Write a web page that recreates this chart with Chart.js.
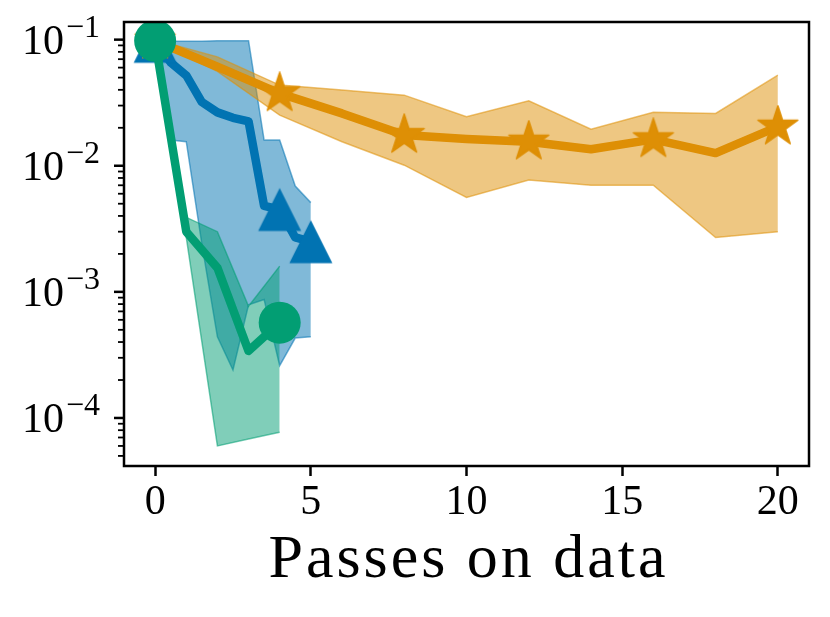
<!DOCTYPE html>
<html>
<head>
<meta charset="utf-8">
<script src="https://cdn.jsdelivr.net/npm/chart.js@4.4.1/dist/chart.umd.min.js"></script>
<style>
  html, body { margin: 0; padding: 0; background: #fff; overflow: hidden; }
  canvas { display: block; }
</style>
</head>
<body>
<canvas id="chart" width="830" height="617"></canvas>
<script>
// values (log scale)
const blueX = [0, 0.5, 1, 1.5, 2, 2.5, 3, 3.5, 4, 4.5, 5];
const blueMean = [0.097, 0.066, 0.052, 0.032, 0.0265, 0.024, 0.0225, 0.0048, 0.0045, 0.0027, 0.0025];
const blueUpper = [0.1, 0.097, 0.097, 0.097, 0.098, 0.098, 0.098, 0.016, 0.016, 0.0069, 0.0051];
const blueLower = [0.09, 0.016, 0.0155, 0.0024, 0.00044, 0.00024, 0.00079, 0.00087, 0.00026, 0.00043, 0.00044];
const blueMarks = [0, 8, 10];

const orangeX = [0, 2, 4, 6, 8, 10, 12, 14, 16, 18, 20];
const orangeMean = [0.098, 0.061, 0.0375, 0.026, 0.0175, 0.0163, 0.0155, 0.0135, 0.0162, 0.0126, 0.0204];
const orangeUpper = [0.1, 0.073, 0.0436, 0.0398, 0.0363, 0.0245, 0.0327, 0.0195, 0.0265, 0.026, 0.0523];
const orangeLower = [0.096, 0.056, 0.0252, 0.0155, 0.0101, 0.0056, 0.0077, 0.0070, 0.0070, 0.0027, 0.0030];
const orangeMarks = [0, 2, 4, 6, 8, 10];

const greenX = [0, 1, 2, 3, 4];
const greenMean = [0.098, 0.003, 0.00155, 0.00034, 0.00057];
const greenUpper = [0.1, 0.0039, 0.0030, 0.00077, 0.0016];
const greenLower = [0.096, 0.0027, 0.00006, 0.000068, 0.000077];
const greenMarks = [0, 4];

const xTicks = [0, 5, 10, 15, 20];
const xTitle = "Passes on data";

const BLUE = "1,115,178";
const ORANGE = "222,143,5";
const GREEN = "2,158,115";

function pts(xs, ys) {
    return xs.map((x, i) => ({ x: x, y: ys[i] }));
}

function radii(n, marks, r) {
    const out = [];
    for (let i = 0; i < n; i++) out.push(marks.includes(i) ? r : 0);
    return out;
}

// matplotlib-like filled markers
function starMarker(R, color) {
    const s = Math.ceil(R) * 2 + 2;
    const c = document.createElement("canvas");
    c.width = s; c.height = s;
    const g = c.getContext("2d");
    const r = R * 0.381966;
    g.beginPath();
    for (let i = 0; i < 10; i++) {
        const a = -Math.PI / 2 + i * Math.PI / 5;
        const rr = i % 2 === 0 ? R : r;
        const px = s / 2 + rr * Math.cos(a);
        const py = s / 2 + rr * Math.sin(a);
        if (i === 0) g.moveTo(px, py); else g.lineTo(px, py);
    }
    g.closePath();
    g.fillStyle = color;
    g.fill();
    g.lineWidth = 1.5;
    g.lineJoin = "round";
    g.strokeStyle = color;
    g.stroke();
    return c;
}

function triangleMarker(h, color) {
    const s = Math.ceil(h) * 2 + 2;
    const c = document.createElement("canvas");
    c.width = s; c.height = s;
    const g = c.getContext("2d");
    g.beginPath();
    g.moveTo(s / 2, s / 2 - h);
    g.lineTo(s / 2 + h, s / 2 + h);
    g.lineTo(s / 2 - h, s / 2 + h);
    g.closePath();
    g.fillStyle = color;
    g.fill();
    return c;
}

function meanSet(xs, ys, rgb, marks, style, r, order) {
    return {
        data: pts(xs, ys),
        borderColor: `rgb(${rgb})`,
        backgroundColor: `rgb(${rgb})`,
        borderWidth: 8.5,
        borderJoinStyle: "round",
        fill: false,
        tension: 0,
        pointStyle: style,
        pointRadius: radii(xs.length, marks, r),
        pointHoverRadius: radii(xs.length, marks, r),
        pointBackgroundColor: `rgb(${rgb})`,
        pointBorderWidth: 0,
        order: order
    };
}

function bandSet(xs, ys, rgb, fill, order) {
    return {
        data: pts(xs, ys),
        borderColor: `rgba(${rgb},0.55)`,
        backgroundColor: `rgba(${rgb},0.5)`,
        borderWidth: 1.5,
        fill: fill,
        tension: 0,
        pointRadius: 0,
        pointHoverRadius: 0,
        order: order
    };
}

const axesDecor = {
    id: "axesDecor",
    afterDraw(chart) {
        const { ctx, chartArea: a, scales: { y } } = chart;
        ctx.save();
        ctx.strokeStyle = "#000";
        ctx.fillStyle = "#000";
        ctx.lineCap = "butt";
        for (let e = -5; e <= 0; e++) {
            for (let m = 1; m <= 9; m++) {
                const v = m * Math.pow(10, e);
                if (v < y.min || v > y.max) continue;
                const py = y.getPixelForValue(v);
                const major = m === 1;
                ctx.lineWidth = major ? 2.5 : 1.8;
                ctx.beginPath();
                ctx.moveTo(a.left - (major ? 10 : 6), py);
                ctx.lineTo(a.left, py);
                ctx.stroke();
                if (major) {
                    ctx.textAlign = "left";
                    ctx.textBaseline = "alphabetic";
                    ctx.font = '42px "Liberation Serif"';
                    ctx.fillText("10", 22, py + 14);
                    ctx.font = '32px "Liberation Serif"';
                    ctx.fillText("\u2212" + (-e), 66, py - 3);
                }
            }
        }
        ctx.lineWidth = 2.5;
        ctx.strokeRect(a.left, a.top, a.right - a.left, a.bottom - a.top);

        ctx.font = '62px "Liberation Serif"';
        ctx.letterSpacing = "3px";
        ctx.textAlign = "center";
        ctx.textBaseline = "alphabetic";
        ctx.fillText(xTitle, (a.left + a.right) / 2 + 2, 577);
        ctx.restore();
    }
};

function mostrarGrafico() {
    const ctx = document.getElementById("chart");
    const star = starMarker(21, `rgb(${ORANGE})`);
    const tri = triangleMarker(21.5, `rgb(${BLUE})`);

    new Chart(ctx, {
        type: "line",
        data: {
            datasets: [
                meanSet(greenX, greenMean, GREEN, greenMarks, "circle", 21, 0),
                bandSet(greenX, greenUpper, GREEN, "+1", 1),
                bandSet(greenX, greenLower, GREEN, false, 1),
                meanSet(orangeX, orangeMean, ORANGE, orangeMarks, star, 20, 2),
                bandSet(orangeX, orangeUpper, ORANGE, "+1", 3),
                bandSet(orangeX, orangeLower, ORANGE, false, 3),
                meanSet(blueX, blueMean, BLUE, blueMarks, tri, 21, 4),
                bandSet(blueX, blueUpper, BLUE, "+1", 5),
                bandSet(blueX, blueLower, BLUE, false, 5)
            ]
        },
        options: {
            responsive: false,
            animation: false,
            events: [],
            layout: { padding: { top: 22, right: 19, bottom: 0, left: 0 } },
            plugins: {
                legend: { display: false },
                tooltip: { enabled: false }
            },
            scales: {
                x: {
                    type: "linear",
                    min: -1,
                    max: 21,
                    afterBuildTicks: (scale) => {
                        scale.ticks = xTicks.map(v => ({ value: v }));
                    },
                    afterFit: (scale) => { scale.height = 151; },
                    ticks: {
                        color: "#000",
                        padding: 2,
                        maxRotation: 0,
                        font: { family: "Liberation Serif", size: 42 }
                    },
                    grid: {
                        drawOnChartArea: false,
                        drawTicks: true,
                        tickLength: 10,
                        tickWidth: 2.5,
                        tickColor: "#000"
                    },
                    border: { display: false }
                },
                y: {
                    type: "logarithmic",
                    min: 4.16e-5,
                    max: 0.138,
                    afterFit: (scale) => { scale.width = 124; },
                    ticks: { display: false },
                    grid: { display: false },
                    border: { display: false }
                }
            }
        },
        plugins: [axesDecor]
    });
}

document.addEventListener("DOMContentLoaded", mostrarGrafico);
</script>
</body>
</html>
